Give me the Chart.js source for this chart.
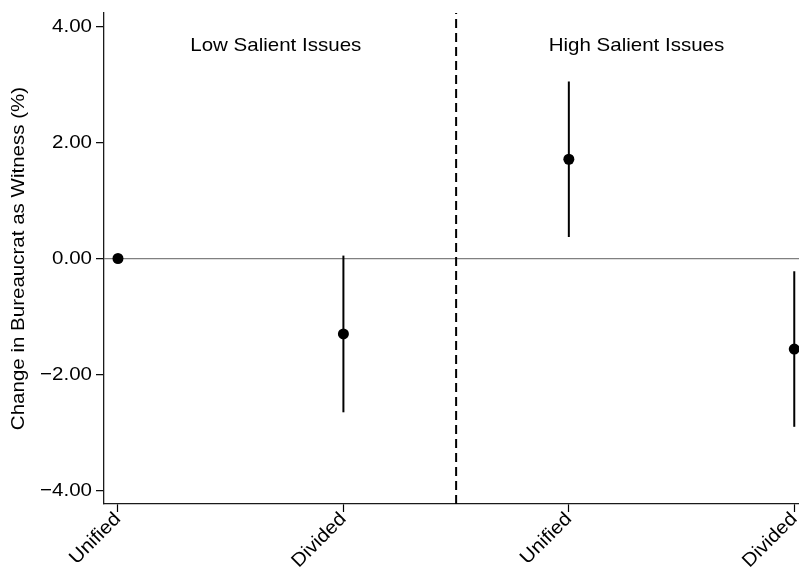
<!DOCTYPE html>
<html>
<head>
<meta charset="utf-8">
<title>Change in Bureaucrat as Witness</title>
<script src="https://cdn.jsdelivr.net/npm/chart.js@4.4.1/dist/chart.umd.min.js"></script>
<style>
  html, body { margin: 0; padding: 0; background: #ffffff; overflow: hidden; }
  #chart { display: block; }
</style>
</head>
<body>
<canvas id="chart" width="799" height="569"></canvas>
<script>
// Categories along the x axis (government type within each issue group)
const categories = ['Unified', 'Divided', 'Unified', 'Divided'];
const positions = [0, 1, 2, 3];
// Point estimates and 95% interval bounds (percentage points)
const estimates = [0.00, -1.30, 1.71, -1.56];
const lowerBounds = [null, -2.65, 0.37, -2.90];
const upperBounds = [null, 0.05, 3.05, -0.22];
// Issue groups and their separator
const groupNames = ['Low Salient Issues', 'High Salient Issues'];
const groupLabelX = [0.70, 2.30];
const groupLabelY = 3.67;
const separatorX = 1.5;
// Axis ticks
const yTicks = [-4, -2, 0, 2, 4];
const yRange = [-4.23, 4.23];
const xRange = [-0.062, 3.021];

const FONT = '"Liberation Sans", Arial, Helvetica, sans-serif';
const FONT_SIZE = 19;
const WIDEN = 1.08; // the lettering is set slightly wide

const canvas = document.getElementById('chart');
const ctx = canvas.getContext('2d');

// Widen all lettering a little along the text direction
(function widenText(c) {
  const fill = c.fillText;
  const measure = c.measureText;
  c.fillText = function (text, x, y) {
    this.save();
    this.translate(x, y);
    this.scale(WIDEN, 1);
    fill.call(this, text, 0, 0);
    this.restore();
  };
  c.measureText = function (text) {
    const m = measure.call(this, text);
    return {
      width: m.width * WIDEN,
      actualBoundingBoxAscent: m.actualBoundingBoxAscent,
      actualBoundingBoxDescent: m.actualBoundingBoxDescent,
      actualBoundingBoxLeft: m.actualBoundingBoxLeft * WIDEN,
      actualBoundingBoxRight: m.actualBoundingBoxRight * WIDEN,
      fontBoundingBoxAscent: m.fontBoundingBoxAscent,
      fontBoundingBoxDescent: m.fontBoundingBoxDescent
    };
  };
})(ctx);

const fmt = v => (v < 0 ? '\u2212' : '') + Math.abs(v).toFixed(2);

// Vertical interval lines drawn beneath the estimate markers
const intervalPlugin = {
  id: 'intervals',
  beforeDatasetsDraw(chart) {
    const { ctx: c, chartArea, scales: { x, y } } = chart;
    c.save();
    c.beginPath();
    c.rect(chartArea.left, chartArea.top, chartArea.right - chartArea.left, chartArea.bottom - chartArea.top);
    c.clip();
    c.strokeStyle = '#000000';
    c.lineWidth = 2;
    positions.forEach((p, i) => {
      if (lowerBounds[i] === null || upperBounds[i] === null) return;
      const px = x.getPixelForValue(p);
      c.beginPath();
      c.moveTo(px, y.getPixelForValue(lowerBounds[i]));
      c.lineTo(px, y.getPixelForValue(upperBounds[i]));
      c.stroke();
    });
    c.restore();
  }
};

// Group headings inside the plot
const groupLabelPlugin = {
  id: 'groupLabels',
  afterDatasetsDraw(chart) {
    const { ctx: c, scales: { x, y } } = chart;
    c.save();
    c.font = FONT_SIZE + 'px ' + FONT;
    c.fillStyle = '#000000';
    c.textAlign = 'center';
    c.textBaseline = 'middle';
    groupNames.forEach((name, i) => {
      c.fillText(name, x.getPixelForValue(groupLabelX[i]), y.getPixelForValue(groupLabelY));
    });
    c.restore();
  }
};

new Chart(ctx, {
  type: 'scatter',
  data: {
    datasets: [
      {
        label: 'Separator',
        type: 'line',
        data: [{ x: separatorX, y: yRange[0] }, { x: separatorX, y: yRange[1] }],
        borderColor: '#000000',
        borderWidth: 2,
        borderDash: [9, 5],
        pointRadius: 0,
        fill: false,
        order: 2
      },
      {
        label: 'Estimate',
        data: positions.map((p, i) => ({ x: p, y: estimates[i] })),
        backgroundColor: '#000000',
        borderColor: '#000000',
        pointRadius: 5.5,
        pointBorderWidth: 0,
        order: 1
      }
    ]
  },
  options: {
    responsive: false,
    animation: false,
    devicePixelRatio: 1,
    layout: { autoPadding: false, padding: { top: 13, right: 0, bottom: 0, left: 0 } },
    plugins: {
      legend: { display: false },
      tooltip: { enabled: false }
    },
    scales: {
      x: {
        type: 'linear',
        min: xRange[0],
        max: xRange[1],
        afterBuildTicks: s => { s.ticks = positions.map(v => ({ value: v })); },
        afterFit: s => { s.height = 65; s.paddingLeft = 0; s.paddingRight = 0; },
        ticks: {
          autoSkip: false,
          maxRotation: 45,
          minRotation: 45,
          padding: -4,
          color: '#000000',
          font: { family: FONT, size: FONT_SIZE },
          callback: v => categories[positions.indexOf(v)]
        },
        grid: {
          drawOnChartArea: false,
          tickLength: 8,
          tickColor: '#000000',
          tickWidth: 1.2
        },
        border: { color: '#1a1a1a', width: 1.3 }
      },
      y: {
        min: yRange[0],
        max: yRange[1],
        afterBuildTicks: s => { s.ticks = yTicks.map(v => ({ value: v })); },
        afterFit: s => { s.width = 104; s.paddingTop = 0; s.paddingBottom = 0; },
        ticks: {
          padding: 4,
          color: '#000000',
          font: { family: FONT, size: FONT_SIZE },
          callback: v => fmt(v)
        },
        grid: {
          drawOnChartArea: true,
          color: c => (c.tick && c.tick.value === 0 ? '#808080' : 'rgba(0,0,0,0)'),
          lineWidth: 1.3,
          tickLength: 8,
          tickColor: '#000000',
          tickWidth: 1.2
        },
        border: { color: '#1a1a1a', width: 1.3 },
        title: {
          display: true,
          text: 'Change in Bureaucrat as Witness (%)',
          color: '#000000',
          font: { family: FONT, size: FONT_SIZE },
          padding: { top: 7, bottom: 0 }
        }
      }
    }
  },
  plugins: [intervalPlugin, groupLabelPlugin]
});
</script>
</body>
</html>
